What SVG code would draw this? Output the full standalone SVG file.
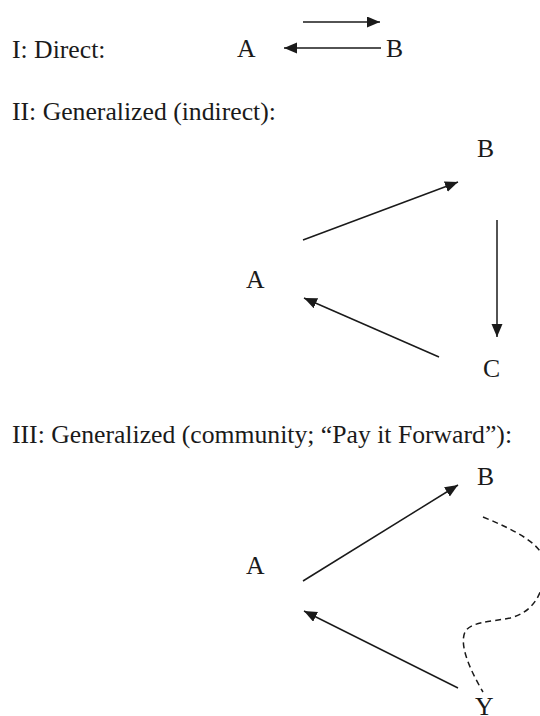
<svg xmlns="http://www.w3.org/2000/svg" width="540" height="716" viewBox="0 0 540 716">
<style>
text{font-family:'Liberation Serif','Times New Roman','DejaVu Serif',serif;font-size:25.7px;fill:#1a1a1a}
.c{stroke:#1a1a1a;stroke-width:1.5;fill:none}
.arr{marker-end:url(#ah)}
.dash{stroke-dasharray:6 4}
</style>
<defs>
<marker id="ah" markerUnits="userSpaceOnUse" markerWidth="14" markerHeight="12" refX="13" refY="5.5" orient="auto">
<path d="M0,0 L13,5.5 L0,11 z" fill="#1a1a1a"/>
</marker>
</defs>
<g id="titles">
<text x="12" y="58">I: Direct:</text>
<text x="12" y="120">II: Generalized (indirect):</text>
<text x="12" y="443">III: Generalized (community; “Pay it Forward”):</text>
</g>
<g id="s1-A"><text x="237" y="57">A</text></g>
<g id="s1-B"><text x="386" y="57">B</text></g>
<g id="s2-A"><text x="246" y="288">A</text></g>
<g id="s2-B"><text x="477" y="157">B</text></g>
<g id="s2-C"><text x="483" y="377">C</text></g>
<g id="s3-A"><text x="246" y="574">A</text></g>
<g id="s3-B"><text x="477" y="485">B</text></g>
<g id="s3-Y"><text x="475" y="715">Y</text></g>
<g id="connectors">
<line class="c arr" x1="303" y1="22" x2="380" y2="22"/>
<line class="c arr" x1="381" y1="48" x2="284" y2="48"/>
<line class="c arr" x1="303" y1="240" x2="458" y2="182"/>
<line class="c arr" x1="497" y1="220" x2="497" y2="337"/>
<line class="c arr" x1="439" y1="357" x2="304" y2="298"/>
<line class="c arr" x1="303" y1="581" x2="458" y2="485"/>
<line class="c arr" x1="458" y1="688" x2="304" y2="611"/>
<path class="c dash" d="M483,517 C515,530 545,545 545,565 C545,590 535,612 510,618 C490,622 470,622 465,632 C459,645 470,670 483,692"/>
</g>
</svg>
